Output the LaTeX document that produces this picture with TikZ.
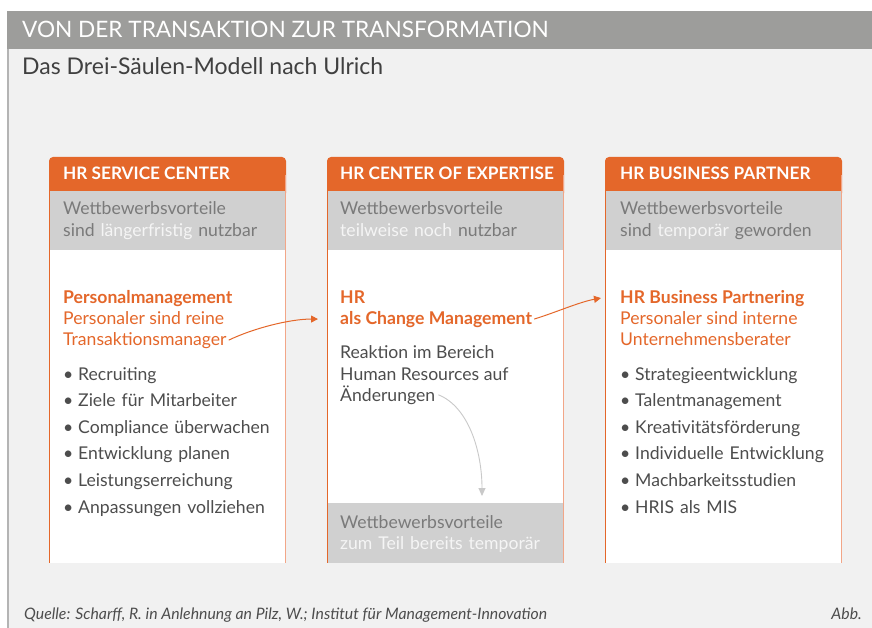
\documentclass[tikz,border=0pt]{standalone}
\usepackage{fontspec}
\setmainfont{Lato}
\usetikzlibrary{arrows.meta}

\definecolor{hrorange}{HTML}{E4672A}
\definecolor{hrorangelight}{HTML}{F2A688}
\definecolor{barGrey}{HTML}{9D9D9B}
\definecolor{pageGrey}{HTML}{F1F1F1}
\definecolor{edgeGrey}{HTML}{B4B4B4}
\definecolor{bandGrey}{HTML}{D0D0D0}
\definecolor{bandText}{HTML}{7A7A7A}
\definecolor{bodyText}{HTML}{4D4D4D}
\definecolor{arrowGrey}{HTML}{C9C9C9}

% highlighted words in the grey bands
\newcommand{\hi}[1]{{\color{white!96!black}#1}}
\newcommand{\bul}{\makebox[15pt][l]{\textbullet}}

\tikzset{
  headtext/.style={anchor=base west, inner sep=0pt, text=white, font=\fontsize{17.2}{21}\selectfont\bfseries},
  bandtext/.style={anchor=base west, inner sep=0pt, text=bandText, text width=220pt, align=left, font=\fontsize{17.6}{21}\selectfont},
  topic/.style={anchor=base west, inner sep=0pt, text=hrorange, font=\fontsize{17.6}{21}\selectfont\bfseries},
  subtopic/.style={anchor=base west, inner sep=0pt, text=hrorange, font=\fontsize{17.6}{21}\selectfont},
  bodytext/.style={anchor=base west, inner sep=0pt, text=bodyText, font=\fontsize{17.6}{21}\selectfont},
  bullets/.style={anchor=base west, inner sep=0pt, text=bodyText, text width=230pt, align=left, font=\fontsize{17.6}{26.6}\selectfont},
  flow/.style={hrorange, line width=1pt, -{Triangle[length=7pt,width=7pt]}},
  flowgrey/.style={arrowGrey, line width=0.9pt, -{Triangle[length=8pt,width=7pt]}},
}

\begin{document}
\begin{tikzpicture}[x=1pt, y=-1pt]
  \useasboundingbox (0,0) rectangle (872,628);
  \fill[white] (0,0) rectangle (872,628);

  % Background and title bar
  \fill[pageGrey] (9,49) rectangle (872,628);
  \fill[barGrey] (7,11) rectangle (872,49);
  \fill[edgeGrey] (7,49) rectangle (9,628);
  \node[anchor=base west, inner sep=0pt, text=white, font=\fontsize{22.6}{26}\selectfont] (title) at (22,38) {VON DER TRANSAKTION ZUR TRANSFORMATION};
  \node[anchor=base west, inner sep=0pt, text=black!75, font=\fontsize{23}{26}\selectfont] (subtitle) at (22,75) {Das Drei-Säulen-Modell nach Ulrich};

  % The three pillars
  \foreach \x in {49,327,605} {
    \fill[white] (\x,250) rectangle +(237,313);
    \fill[hrorange, rounded corners=4pt] (\x,157) rectangle +(237,40);
    \fill[bandGrey] (\x,191) rectangle +(237,59);
  }
  \fill[bandGrey] (327,503) rectangle (564,563);
  \foreach \x in {49,327,605} {
    \draw[hrorange, line width=1.2pt] (\x+0.6,175) -- (\x+0.6,563);
    \draw[hrorangelight, line width=1.2pt] (\x+236.4,175) -- (\x+236.4,563);
  }

  % Headers
  \node[headtext] (head1) at (63,180) {HR SERVICE CENTER};
  \node[headtext] (head2) at (340,180) {HR CENTER OF EXPERTISE};
  \node[headtext] (head3) at (620,180) {HR BUSINESS PARTNER};

  % Competitive advantage bands
  \node[bandtext] (band1) at (63,215) {Wettbewerbsvorteile\\sind \hi{längerfristig} nutzbar};
  \node[bandtext] (band2) at (340,215) {Wettbewerbsvorteile\\\hi{teilweise noch} nutzbar};
  \node[bandtext] (band3) at (620,215) {Wettbewerbsvorteile\\sind \hi{temporär} geworden};
  \node[bandtext] (band2b) at (340,528) {Wettbewerbsvorteile\\\hi{zum Teil bereits temporär}};

  % Left pillar
  \node[topic] (topic1) at (63,303) {Personalmanagement};
  \node[subtopic] (role1a) at (63,324) {Personaler sind reine};
  \node[subtopic] (role1b) at (63,345) {Transaktionsmanager};
  \node[bullets] (list1) at (63,380) {\bul Recruiting\\\bul Ziele für Mitarbeiter\\\bul Compliance überwachen\\\bul Entwicklung planen\\\bul Leistungserreichung\\\bul Anpassungen vollziehen};

  % Middle pillar
  \node[topic] (topic2a) at (340,303) {HR};
  \node[topic] (topic2b) at (340,324) {als Change Management};
  \node[bodytext] (react1) at (340,358) {Reaktion im Bereich};
  \node[bodytext] (react2) at (340,380) {Human Resources auf};
  \node[bodytext] (react3) at (340,401) {Änderungen};
  \coordinate (band2top) at (482,496);

  % Right pillar
  \node[topic] (topic3) at (620,303) {HR Business Partnering};
  \node[subtopic] (role3a) at (620,324) {Personaler sind interne};
  \node[subtopic] (role3b) at (620,345) {Unternehmensberater};
  \node[bullets] (list3) at (620,380) {\bul Strategieentwicklung\\\bul Talentmanagement\\\bul Kreativitätsförderung\\\bul Individuelle Entwicklung\\\bul Machbarkeitsstudien\\\bul HRIS als MIS};

  % Transitions
  \draw[flow] ([xshift=2pt]role1b.east) .. controls +(25,-12) and +(-28,0) .. ([xshift=-22pt]topic2b.west);
  \draw[flow] ([xshift=2pt]topic2b.east) .. controls +(20,-6) and +(-22,4) .. ([xshift=-19pt]topic3.west);
  \draw[flowgrey] ([xshift=3pt]react3.east) .. controls +(30,12) and +(0,-45) .. (band2top);

  % Footer
  \node[anchor=base west, inner sep=0pt, text=bodyText, font=\fontsize{15.8}{18}\selectfont\itshape] (source) at (24,619) {Quelle: Scharff, R. in Anlehnung an Pilz, W.; Institut für Management-Innovation};
  \node[anchor=base east, inner sep=0pt, text=bodyText, font=\fontsize{15.8}{18}\selectfont\itshape] (fig) at (862,619) {Abb.};
\end{tikzpicture}
\end{document}
